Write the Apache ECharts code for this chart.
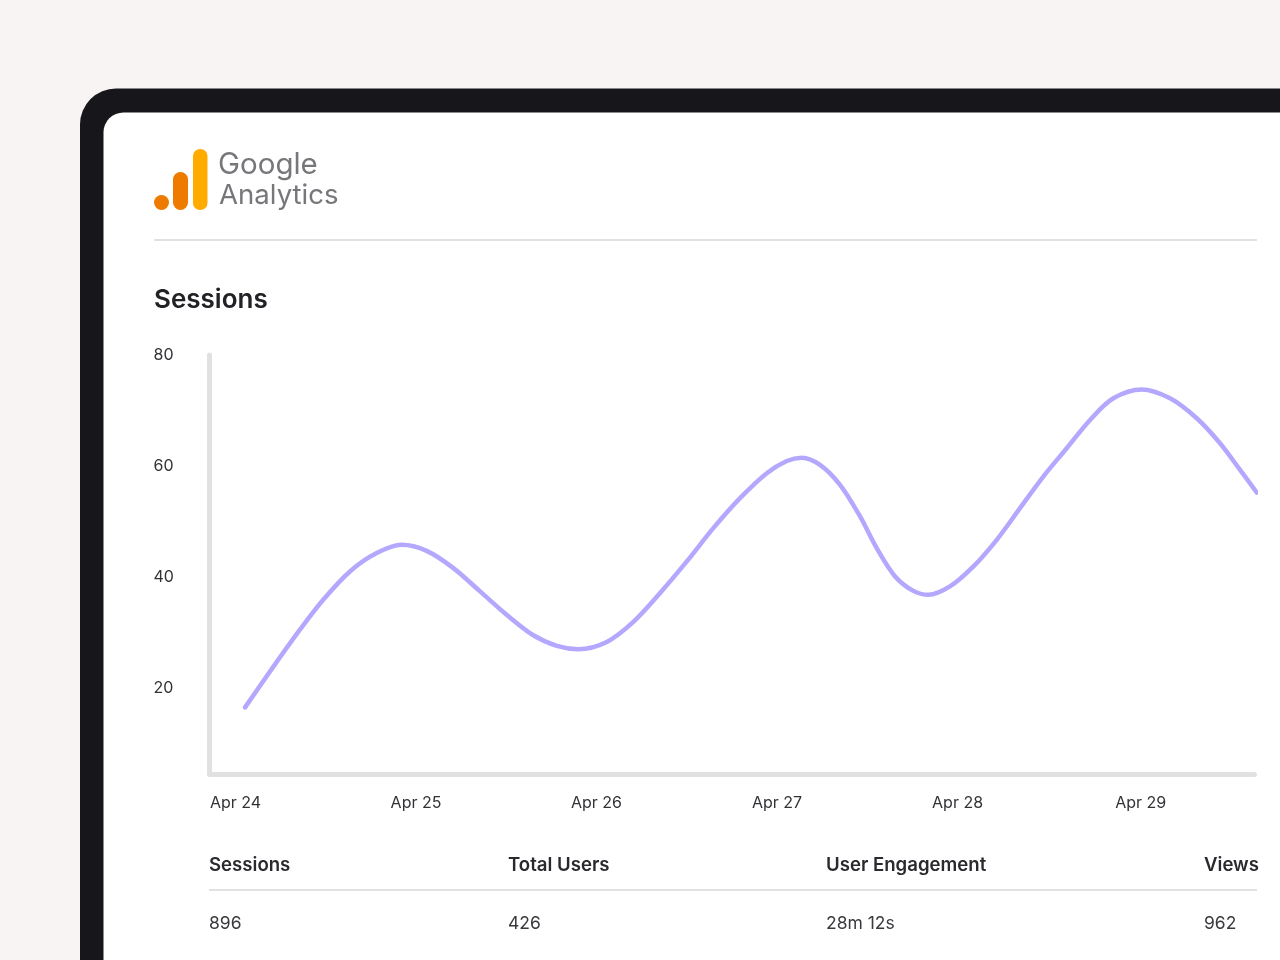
<!DOCTYPE html>
<html>
<head>
<meta charset="utf-8">
<style>
  html, body { margin: 0; padding: 0; background: #f7f4f3; }
  #chart { width: 1280px; height: 960px; }
</style>
<script src="https://cdn.jsdelivr.net/npm/echarts@6/dist/echarts.min.js"></script>
</head>
<body>
<div id="chart"></div>
<script>
// chart values
const dayLabels = ['Apr 24', 'Apr 25', 'Apr 26', 'Apr 27', 'Apr 28', 'Apr 29'];
const dayTicks = [0, 1, 2, 3, 4, 5.015];
const yTicks = [20, 40, 60, 80];
const sessionDays = [
  0.053, 0.209, 0.357, 0.486, 0.634, 0.782, 0.921, 1.059, 1.207, 1.355, 1.502, 1.65, 1.78, 1.899,
  2.057, 2.204, 2.352, 2.5, 2.647, 2.795, 2.943, 3.054, 3.137, 3.238, 3.349, 3.46, 3.552, 3.654, 3.755, 3.838,
  3.958, 4.088, 4.217, 4.346, 4.475, 4.605, 4.734, 4.863, 5.021, 5.177, 5.325, 5.454, 5.565, 5.658
];
const sessionValues = [
  16.5, 23.8, 30.5, 35.9, 41.0, 44.3, 45.8, 44.7, 41.6, 37.4, 33.2, 29.5, 27.6, 27.0,
  28.3, 31.9, 37.1, 42.8, 48.8, 54.2, 58.7, 60.9, 61.5, 60.2, 56.6, 50.9, 45.2, 40.1, 37.5, 36.8,
  38.3, 41.9, 46.7, 52.4, 58.1, 63.2, 68.3, 72.2, 73.8, 72.2, 68.6, 64.1, 59.3, 55.2
];
const tableHeads = ['Sessions', 'Total Users', 'User Engagement', 'Views'];
const tableValues = ['896', '426', '28m 12s', '962'];
const tableX = [209, 508, 826, 1204];

const fontName = 'Inter, "Noto Sans", sans-serif';
const lineGrey = '#e2e1e2';

function label(x, y, text, size, weight, color) {
  return {
    type: 'text', x, y,
    style: { text, fontFamily: fontName, fontSize: size, fontWeight: weight, fill: color, verticalAlign: 'middle' }
  };
}

const graphics = [
  // device frame + white page
  { type: 'rect', shape: { x: 80, y: 88.5, width: 1300, height: 1000, r: 36 }, style: { fill: '#17161b' }, z: -10 },
  { type: 'rect', shape: { x: 103.5, y: 112.5, width: 1300, height: 1000, r: 20 }, style: { fill: '#ffffff' }, z: -9 },
  // logo
  { type: 'circle', shape: { cx: 161.5, cy: 202.5, r: 7.5 }, style: { fill: '#ee7a00' } },
  { type: 'rect', shape: { x: 173, y: 172, width: 15, height: 38, r: 7.5 }, style: { fill: '#ee7a00' } },
  { type: 'rect', shape: { x: 193, y: 149, width: 14.5, height: 61, r: 7 }, style: { fill: '#ffab00' } },
  label(218, 165, 'Google', 29.5, 400, '#77777b'),
  label(219, 196, 'Analytics', 27.6, 400, '#77777b'),
  { type: 'rect', shape: { x: 154, y: 239, width: 1103, height: 2 }, style: { fill: lineGrey } },
  label(154, 300, 'Sessions', 26, 600, '#222226'),
  // table under the chart
  { type: 'rect', shape: { x: 209, y: 889, width: 1048, height: 2 }, style: { fill: lineGrey } }
];
tableHeads.forEach((head, i) => {
  graphics.push(label(tableX[i], 865, head, 18.6, 600, '#2a2a2e'));
  graphics.push(label(tableX[i], 923.5, tableValues[i], 17.5, 400, '#3a3a3e'));
});

const myChart = echarts.init(document.getElementById('chart'), null, { renderer: 'canvas' });
myChart.setOption({
  animation: false,
  backgroundColor: '#f7f4f3',
  textStyle: { fontFamily: fontName },
  grid: { left: 209.5, top: 355, width: 1045, height: 419, containLabel: false },
  xAxis: {
    type: 'value',
    min: -0.144,
    max: 5.645,
    splitLine: { show: false },
    axisTick: { show: false },
    axisLine: { show: true, onZero: false, lineStyle: { color: lineGrey, width: 5 } },
    axisLabel: {
      customValues: dayTicks,
      formatter: v => dayLabels[dayTicks.indexOf(v)],
      color: '#333337',
      fontSize: 16,
      margin: 21,
      hideOverlap: false
    }
  },
  yAxis: {
    type: 'value',
    min: 4.5,
    max: 80,
    splitLine: { show: false },
    axisTick: { show: false },
    axisLine: { show: true, onZero: false, lineStyle: { color: lineGrey, width: 5 } },
    axisLabel: {
      customValues: yTicks,
      color: '#333337',
      fontSize: 16,
      align: 'left',
      margin: 56
    }
  },
  series: [{
    type: 'line',
    data: sessionDays.map((d, i) => [d, sessionValues[i]]),
    smooth: 0.33,
    showSymbol: false,
    clip: false,
    lineStyle: { color: '#b3a8fd', width: 4.5, cap: 'round' }
  }],
  graphic: graphics
});
</script>
</body>
</html>
